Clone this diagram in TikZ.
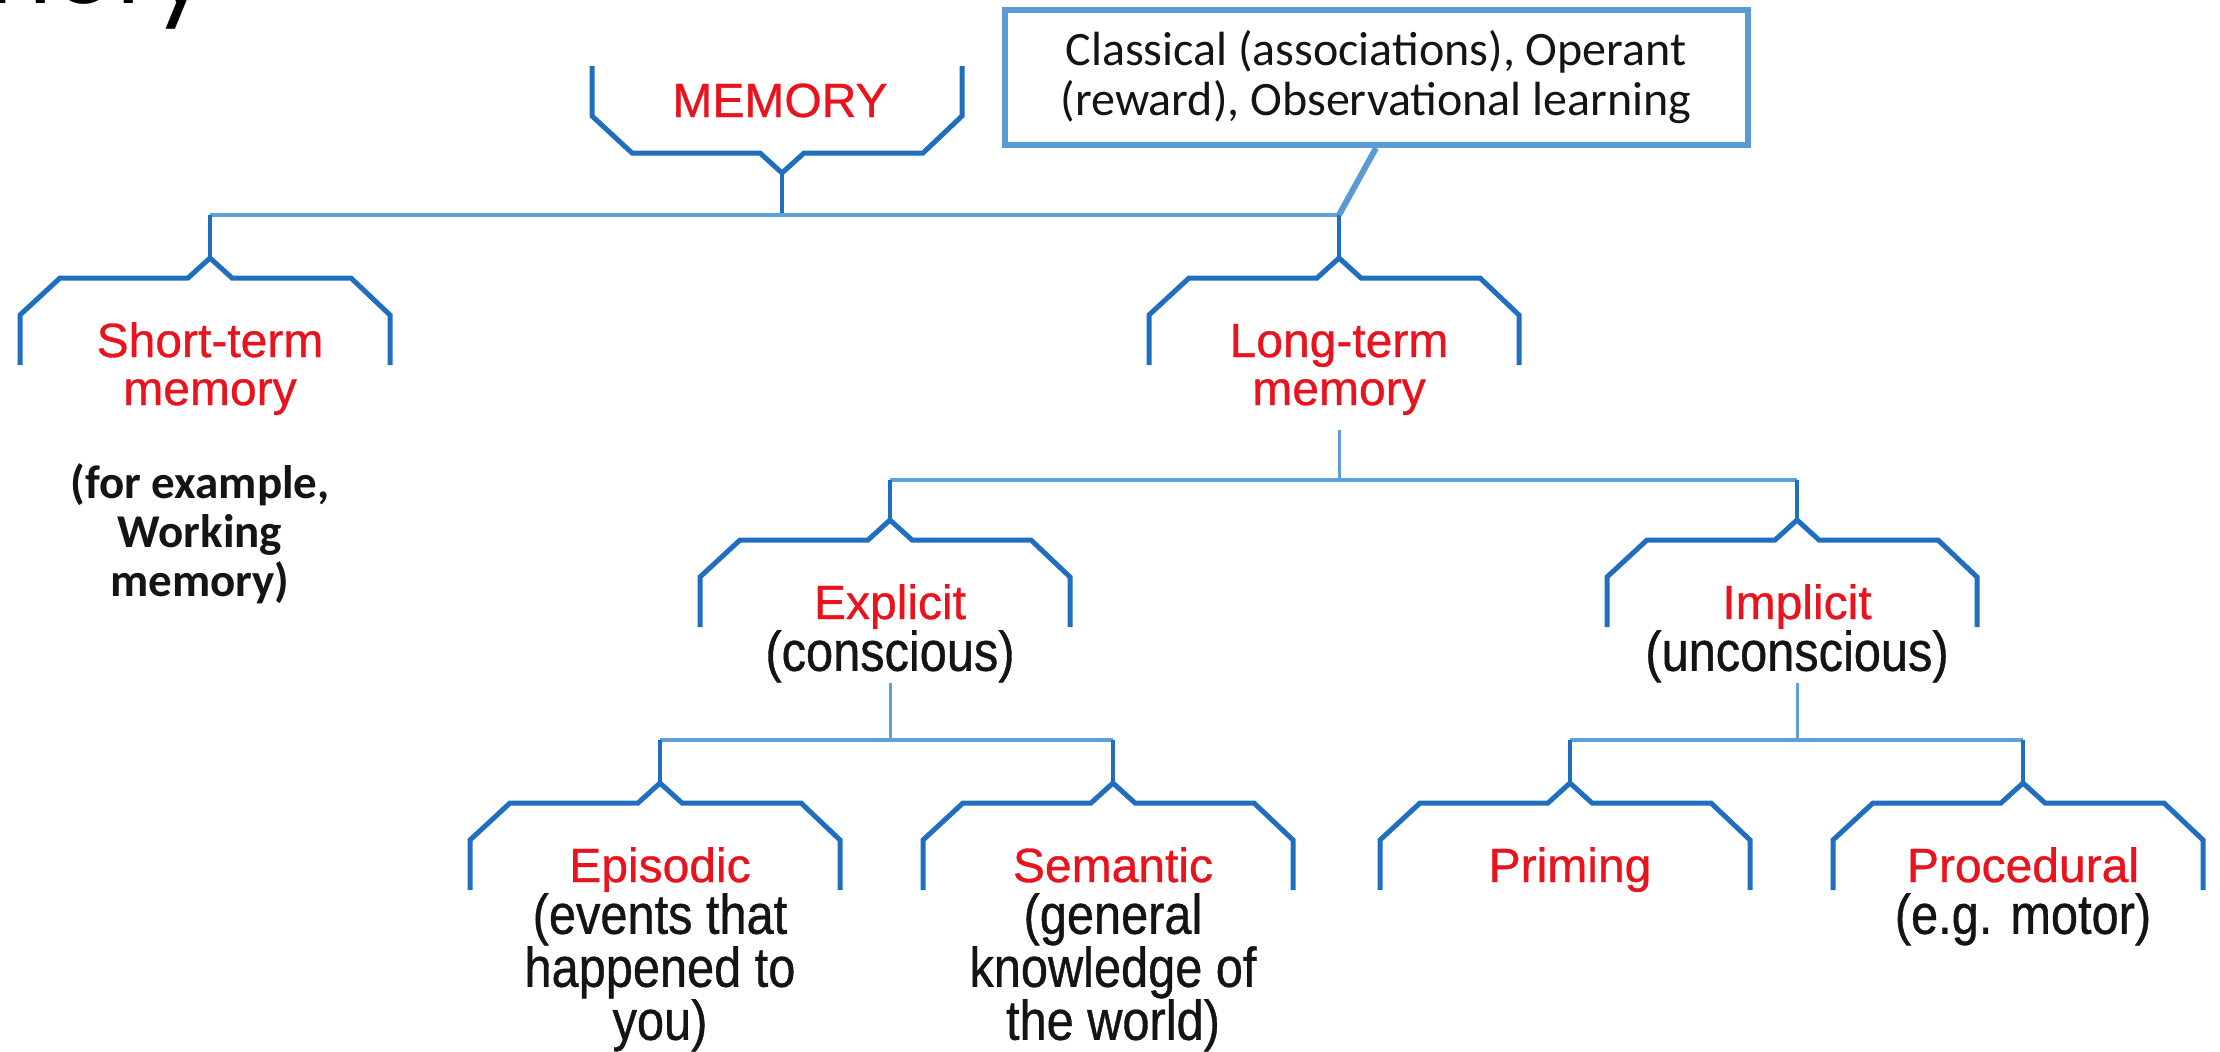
\documentclass[tikz,border=0pt]{standalone}
\usepackage{fontspec}
\setmainfont{Liberation Sans}
\newfontfamily\chartfont[FakeBold=0.7]{Liberation Sans}
\newfontfamily\narrowfont[FakeStretch=0.87, FakeBold=0.7]{Liberation Sans}
\newfontfamily\notefont{Carlito}
\newfontfamily\headfont{Poppins}
\usetikzlibrary{positioning,calc}
\definecolor{braceBlue}{HTML}{1F6EBF}
\definecolor{linkBlue}{HTML}{5EA0DA}
\definecolor{noteBlue}{HTML}{5B9BD5}
\definecolor{catRed}{HTML}{E8131D}
\definecolor{inkBlack}{HTML}{141414}

\tikzset{
  pics/memBrace/.style={code={
    \draw[braceBlue, line width=5pt, line join=miter]
      (-190,107) -- (-190,57) -- (-150,20) -- (-22,20) -- (0,0) -- (22,20) -- (141,20) -- (180,57) -- (180,107);
  }}
}

\begin{document}
\begin{tikzpicture}[x=1pt, y=-1pt,
    cat/.style={font=\chartfont\fontsize{48}{48}\selectfont, text=catRed, inner sep=0pt, align=center, anchor=base},
    sub/.style={font=\narrowfont\fontsize{56}{53}\selectfont, text=inkBlack, inner sep=0pt, align=center, anchor=north},
    link/.style={draw=linkBlue, line width=4pt},
    drop/.style={draw=linkBlue, line width=3pt},
    stem/.style={draw=braceBlue, line width=4pt}]
  \useasboundingbox (0,0) rectangle (2220,1052);

  % slide title, cut off by the top edge
  \node[anchor=base east, inner sep=0pt, font=\headfont\fontsize{100}{100}\selectfont] (title) at (210,3) {Memory};

  % root
  \coordinate (mem-top) at (782,173);
  \pic[yscale=-1] at (mem-top) {memBrace};
  \node[cat] (mem) at (780,117) {MEMORY};

  % brace tops of every category
  \foreach \n/\x/\y in {stm/210/258, ltm/1339/258, expl/890/520, impl/1797/520,
                        epis/660/783, sema/1113/783, prim/1570/783, proc/2023/783} {
    \coordinate (\n-top) at (\x,\y);
    \pic at (\n-top) {memBrace};
  }

  % level 1 (base = last line)
  \node[cat] (stm) at (210,405) {Short-term\\memory};
  \node[cat] (ltm) at (1339,405) {Long-term\\memory};
  \node[font=\notefont\bfseries\fontsize{47}{49}\selectfont, text=inkBlack, align=center, inner sep=0pt, anchor=base]
    (stm-ex) at (200,596) {(for example,\\Working\\memory)};

  % level 2
  \node[cat] (expl) at (890,619) {Explicit};
  \node[sub] (expl-sub) at ($(expl.base)+(0,11)$) {(conscious)};
  \node[cat] (impl) at (1797,619) {Implicit};
  \node[sub] (impl-sub) at ($(impl.base)+(0,11)$) {(unconscious)};

  % level 3
  \node[cat] (epis) at (660,882) {Episodic};
  \node[sub] (epis-sub) at ($(epis.base)+(0,11)$) {(events that\\happened to\\you)};
  \node[cat] (sema) at (1113,882) {Semantic};
  \node[sub] (sema-sub) at ($(sema.base)+(0,11)$) {(general\\knowledge of\\the world)};
  \node[cat] (prim) at (1570,882) {Priming};
  \node[cat] (proc) at (2023,882) {Procedural};
  \node[sub] (proc-sub) at ($(proc.base)+(0,11)$) {(e.g. motor)};

  % bars joining the children
  \coordinate (mem-bar) at (782,215);
  \coordinate (ltm-bar) at (1339,480);
  \coordinate (expl-bar) at (890,740);
  \coordinate (impl-bar) at (1797,740);
  \draw[stem] (mem-top) -- (mem-bar);
  \draw[drop, shorten <=15pt] (ltm) -- (ltm-bar);
  \draw[drop] (expl-sub) -- (expl-bar);
  \draw[drop] (impl-sub) -- (impl-bar);
  \foreach \p/\a/\b in {mem/stm/ltm, ltm/expl/impl, expl/epis/sema, impl/prim/proc} {
    \draw[link] (\a-top |- \p-bar) -- (\b-top |- \p-bar);
    \draw[stem] (\a-top |- \p-bar) -- (\a-top);
    \draw[stem] (\b-top |- \p-bar) -- (\b-top);
  }

  % callout
  \node[draw=noteBlue, line width=6pt, minimum width=743pt, minimum height=135pt, inner sep=0pt,
        align=center, font=\notefont\fontsize{48}{50}\selectfont, text=inkBlack]
    (note) at (1376,77.5) {Classical (associations), Operant\\(reward), Observational learning};
  \draw[noteBlue, line width=6pt] (note.south) -- (ltm-top |- mem-bar);
\end{tikzpicture}
\end{document}
